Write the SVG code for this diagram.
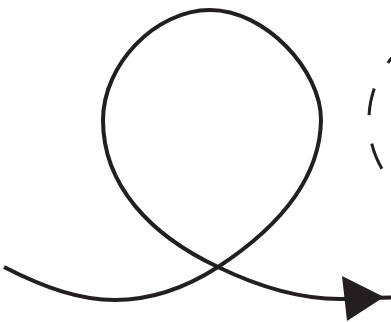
<svg xmlns="http://www.w3.org/2000/svg" width="391" height="322" viewBox="0 0 391 322">
<style>
.line{fill:none;stroke:#231f20;stroke-width:4;stroke-linecap:butt}
.dash{fill:none;stroke:#231f20;stroke-width:3;stroke-dasharray:27 29}
.head{fill:#231f20}
</style>
<rect width="391" height="322" fill="#ffffff"/>
<g id="dashed-circle">
<circle class="dash" cx="465.4" cy="120.35" r="96.5" stroke-dashoffset="27.9"/>
</g>
<g id="connectors">
<path class="line" d="M4,267 C45,288 80,300 115,300 C155,300 190,285 218,267 C270,233 320,185 321,120 C321,70 265,10 210,10 C155,10 103,65 103,120 C103,185 150,235 218,267 C255,285 295,299 340,299 C360,298.5 375,297.8 391,297.5"/>
<polygon class="head" points="342,276 347,321 384,297"/>
</g>
</svg>
